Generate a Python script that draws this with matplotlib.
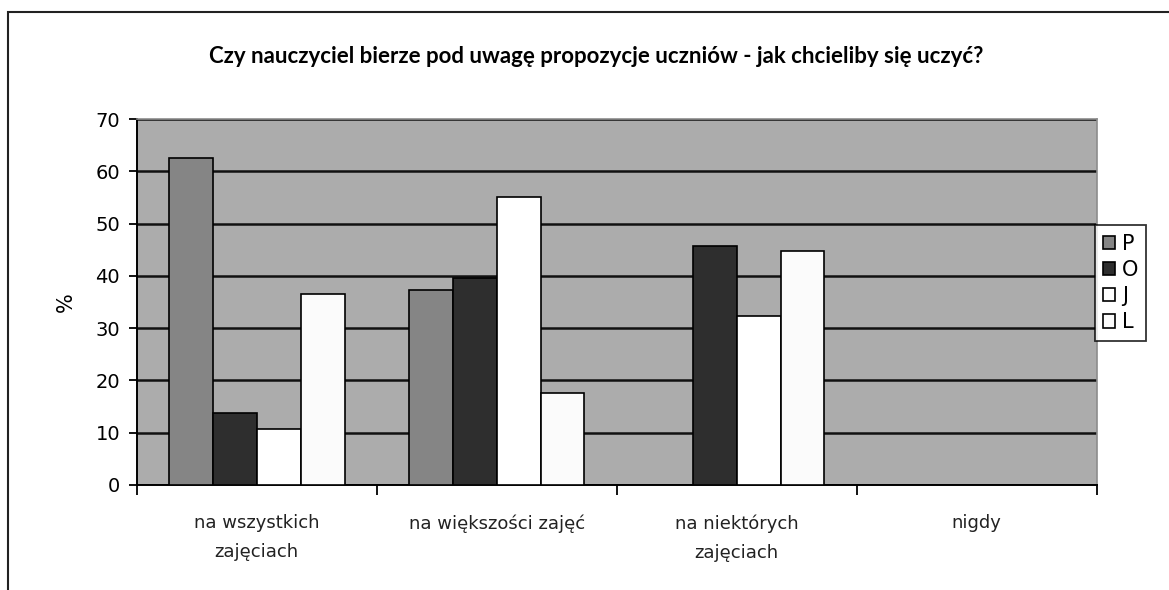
import numpy as np
import matplotlib
matplotlib.use('Agg')
import matplotlib.pyplot as plt
from matplotlib.patches import Rectangle

# Data
categories = ['na wszystkich\nzajęciach', 'na większości zajęć', 'na niektórych\nzajęciach', 'nigdy']
series_names = ['P', 'O', 'J', 'L']
P = [62.6, 37.4, 0, 0]
O = [13.7, 39.7, 45.8, 0]
J = [10.7, 55.2, 32.4, 0]
L = [36.5, 17.6, 44.7, 0]
colors = ['#858585', '#2e2e2e', '#ffffff', '#fbfbfb']
title = 'Czy nauczyciel bierze pod uwagę propozycje uczniów - jak chcieliby się uczyć?'

fig = plt.figure(figsize=(11.69, 5.90), dpi=100)
ax = fig.add_axes([0.117, 0.178, 0.821, 0.620])

# outer chart frame
fig.patches.append(Rectangle((0.007, -0.01), 1.1, 0.99, transform=fig.transFigure,
                             fill=False, edgecolor='#222222', linewidth=1.5))

ax.set_facecolor('#acacac')
x = np.arange(len(categories))
width = 0.183
for i, (vals, c, name) in enumerate(zip([P, O, J, L], colors, series_names)):
    ax.bar(x + (i - 1.5) * width, vals, width, color=c, edgecolor='black',
           linewidth=1.2, label=name, zorder=3)

ax.set_xlim(-0.5, len(categories) - 0.5)
ax.set_ylim(0, 70)
ax.set_yticks(range(0, 71, 10))
ax.yaxis.grid(True, color='#111111', linewidth=1.8, zorder=1)
ax.set_axisbelow(True)

ax.set_xticks(x)
ax.set_xticklabels(categories, fontfamily='DejaVu Sans', linespacing=1.8,
                   va='top', color='#222222')
ax.set_xticks(np.arange(-0.5, len(categories), 1), minor=True)
ax.tick_params(axis='x', which='major', length=0, pad=21, labelsize=13)
ax.tick_params(axis='x', which='minor', length=7, width=1.3, direction='out')
ax.tick_params(axis='y', length=6, width=1.3, labelsize=14, pad=6)

for s in ['left', 'bottom']:
    ax.spines[s].set_color('black')
    ax.spines[s].set_linewidth(1.4)
for s in ['top', 'right']:
    ax.spines[s].set_color('#8c8c8c')
    ax.spines[s].set_linewidth(1.2)

ax.set_ylabel('%', fontsize=15, labelpad=14)

fig.text(0.51, 0.905, title, ha='center', va='center', fontsize=16,
         fontweight='bold', family='Lato')

leg = ax.legend(loc='upper left', bbox_to_anchor=(0.998, 0.71), frameon=True,
                fontsize=15, handlelength=0.6, handleheight=0.6, handletextpad=0.3,
                labelspacing=0.3, borderpad=0.4, fancybox=False, edgecolor='black',
                borderaxespad=0)
leg.get_frame().set_linewidth(1.3)

fig.savefig('out.png', dpi=100)
